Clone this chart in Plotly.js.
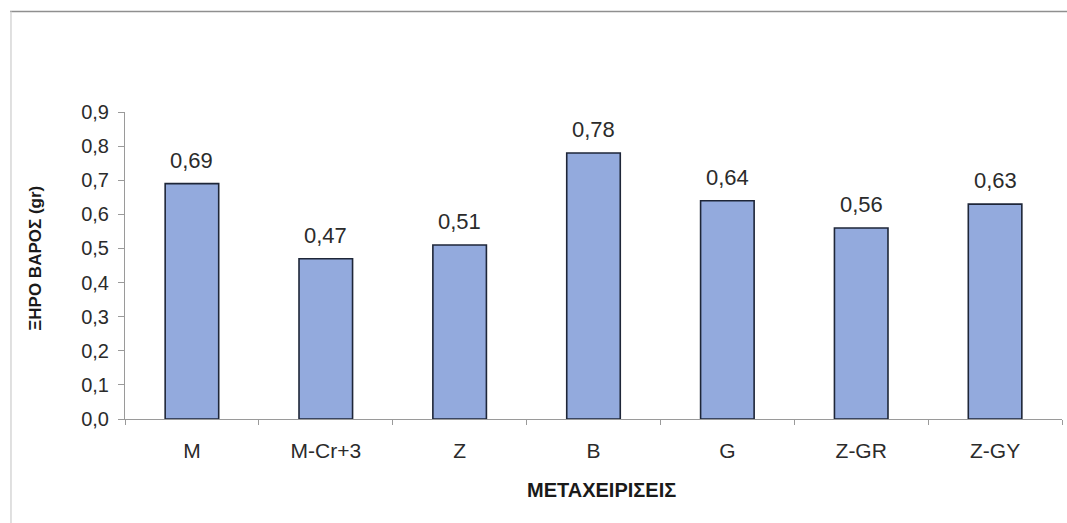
<!DOCTYPE html>
<html>
<head>
<meta charset="utf-8">
<script src="https://cdn.plot.ly/plotly-3.0.1.min.js"></script>
<style>
  html, body { margin: 0; padding: 0; background: #fff; }
  #chart { width: 1067px; height: 523px; }
</style>
</head>
<body>
<div id="chart"></div>
<script>
// Treatments and dry weight per treatment (gr)
const treatments = ['M', 'M-Cr+3', 'Z', 'B', 'G', 'Z-GR', 'Z-GY'];
const dryWeight = [0.69, 0.47, 0.51, 0.78, 0.64, 0.56, 0.63];
const yTicks = [0, 0.1, 0.2, 0.3, 0.4, 0.5, 0.6, 0.7, 0.8, 0.9];

const FONT = 'Liberation Sans, Arial, sans-serif';

const trace = {
  type: 'bar',
  x: treatments,
  y: dryWeight,
  marker: {
    color: '#93aadd',
    line: { color: '#1e2638', width: 1.6 }
  },
  hoverinfo: 'skip'
};

// value labels sitting above each bar
const valueLabels = treatments.map((t, i) => ({
  x: t,
  y: dryWeight[i],
  xref: 'x', yref: 'y',
  text: dryWeight[i].toFixed(2).replace('.', ','),
  showarrow: false,
  yanchor: 'bottom',
  yshift: 9,
  font: { family: FONT, size: 22, color: '#2b2b2b' }
}));

const layout = {
  width: 1067,
  height: 523,
  margin: { l: 125, r: 5, t: 112, b: 104 },
  paper_bgcolor: '#ffffff',
  plot_bgcolor: '#ffffff',
  separators: ',.',
  showlegend: false,
  bargap: 0.6,
  font: { family: FONT, size: 18, color: '#2b2b2b' },
  xaxis: {
    type: 'category',
    showline: true,
    linecolor: '#9a9a9a',
    linewidth: 1,
    ticks: 'outside',
    tickson: 'boundaries',
    ticklen: 5,
    tickcolor: '#9a9a9a',
    ticklabelstandoff: 13,
    showgrid: false,
    zeroline: false,
    tickfont: { family: FONT, size: 21, color: '#2b2b2b' },
    title: { text: '' }
  },
  yaxis: {
    range: [0, 0.9],
    tickvals: yTicks,
    tickformat: '.1f',
    showline: true,
    linecolor: '#9a9a9a',
    linewidth: 1,
    ticks: 'outside',
    ticklen: 6,
    tickcolor: '#9a9a9a',
    ticklabelstandoff: 5,
    showgrid: false,
    zeroline: false,
    tickfont: { family: FONT, size: 20, color: '#2b2b2b' },
    title: { text: '' }
  },
  annotations: valueLabels.concat([
    {
      text: '<b>ΜΕΤΑΧΕΙΡΙΣΕΙΣ</b>',
      xref: 'paper', yref: 'paper',
      x: 0.509, y: -0.231,
      xanchor: 'center', yanchor: 'middle',
      showarrow: false,
      font: { family: FONT, size: 20, color: '#1a1a1a' }
    },
    {
      text: '<b>ΞΗΡΟ ΒΑΡΟΣ (gr)</b>',
      xref: 'paper', yref: 'paper',
      x: -0.0955, y: 0.524,
      xanchor: 'center', yanchor: 'middle',
      textangle: -90,
      showarrow: false,
      font: { family: FONT, size: 17, color: '#1a1a1a' }
    }
  ]),
  shapes: [
    // outer frame of the chart area: top and left edges
    { type: 'line', xref: 'paper', yref: 'paper',
      x0: -0.1227, x1: 1.01, y0: 1.327, y1: 1.327,
      line: { color: '#8f8f8f', width: 1.5 } },
    { type: 'line', xref: 'paper', yref: 'paper',
      x0: -0.1217, x1: -0.1217, y0: 1.327, y1: -0.36,
      line: { color: '#d6d6d6', width: 1.5 } }
  ]
};

Plotly.newPlot('chart', [trace], layout, { displayModeBar: false, staticPlot: true });
</script>
</body>
</html>
